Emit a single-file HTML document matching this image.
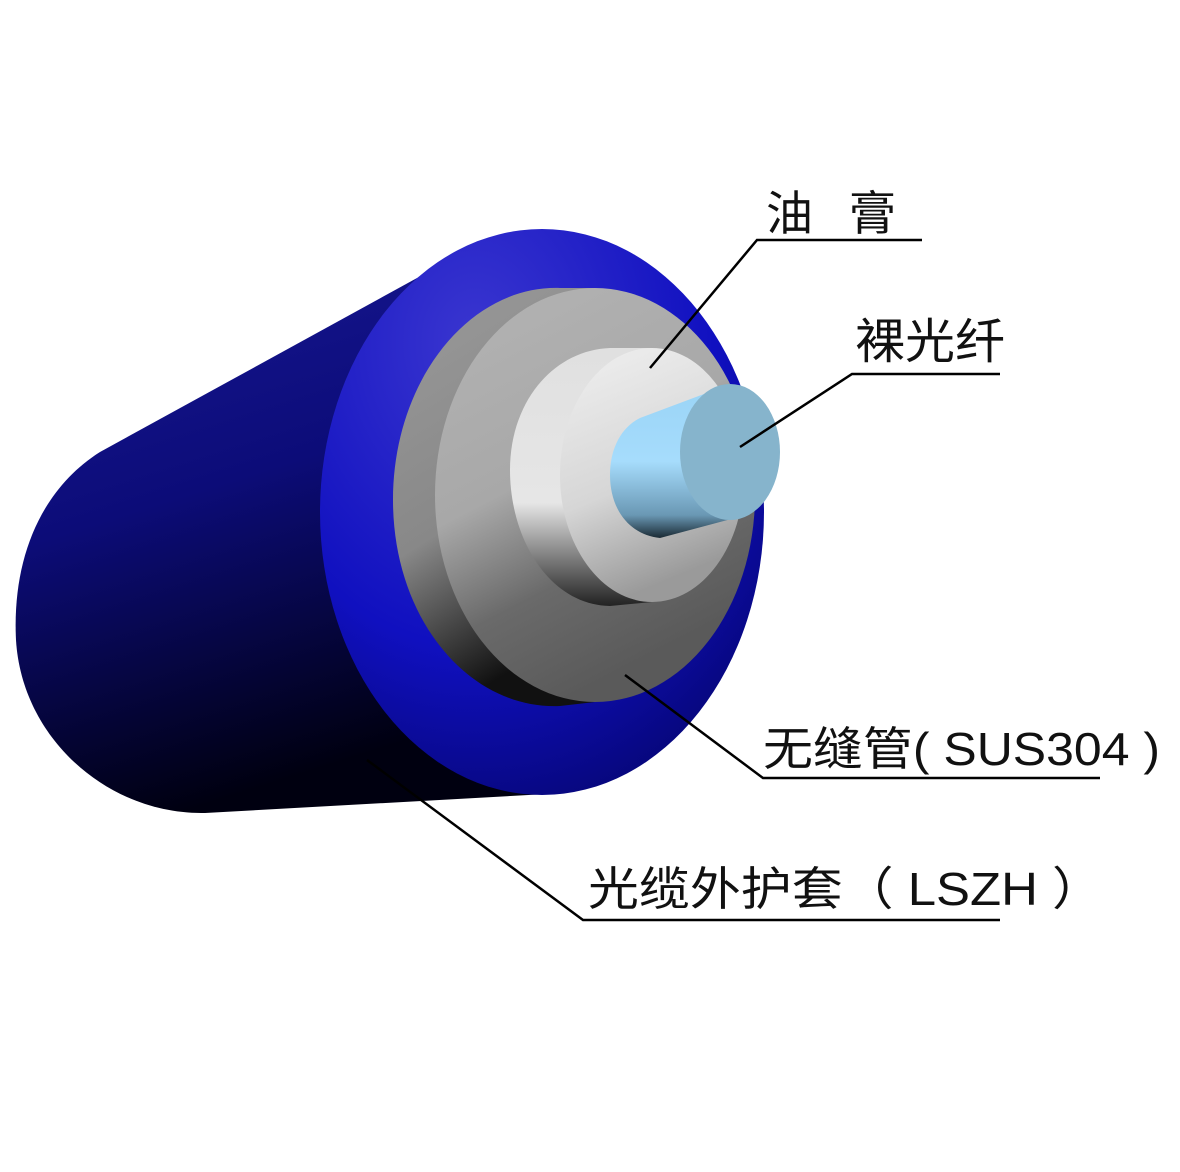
<!DOCTYPE html>
<html><head><meta charset="utf-8"><style>
html,body{margin:0;padding:0;background:#fff;}
svg{display:block;}
text{font-family:"Liberation Sans","Noto Sans CJK SC",sans-serif;fill:#111;}
</style></head><body>
<svg width="1180" height="1172" viewBox="0 0 1180 1172" xmlns="http://www.w3.org/2000/svg">
<defs>
<linearGradient id="body" x1="0" y1="0" x2="0.3" y2="1">
<stop offset="0" stop-color="#1a1a9a"/><stop offset="0.5" stop-color="#0c0c78"/><stop offset="1" stop-color="#000010"/>
</linearGradient>
<radialGradient id="face" cx="0.35" cy="0.2" r="0.9">
<stop offset="0" stop-color="#3a36d0"/><stop offset="0.6" stop-color="#1010c0"/><stop offset="1" stop-color="#050570"/>
</radialGradient>
<linearGradient id="gside" x1="0" y1="0" x2="0.3" y2="1">
<stop offset="0" stop-color="#9a9a9a"/><stop offset="0.6" stop-color="#888"/><stop offset="1" stop-color="#111"/>
</linearGradient>
<linearGradient id="gface" x1="0" y1="0" x2="0.4" y2="1">
<stop offset="0" stop-color="#b4b4b4"/><stop offset="0.5" stop-color="#a8a8a8"/><stop offset="0.75" stop-color="#6a6a6a"/><stop offset="1" stop-color="#5a5a5a"/>
</linearGradient>
<linearGradient id="wside" x1="0" y1="0" x2="0" y2="1">
<stop offset="0" stop-color="#e0e0e0"/><stop offset="0.6" stop-color="#e6e6e6"/><stop offset="1" stop-color="#222"/>
</linearGradient>
<linearGradient id="wface" x1="0" y1="0" x2="0.3" y2="1">
<stop offset="0" stop-color="#f0f0f0"/><stop offset="0.6" stop-color="#d6d6d6"/><stop offset="1" stop-color="#9a9a9a"/>
</linearGradient>
<linearGradient id="fside" x1="0" y1="0" x2="0" y2="1">
<stop offset="0" stop-color="#9ad4f6"/><stop offset="0.5" stop-color="#a6dcfc"/><stop offset="0.85" stop-color="#6a98b4"/><stop offset="1" stop-color="#1a2a34"/>
</linearGradient>
</defs>
<path d="M490,238 L100,452 C40,490 12,560 16,640 C22,740 110,815 205,813 L565,793 L542,232 Z" fill="url(#body)"/>
<ellipse cx="542" cy="512" rx="222" ry="283" fill="url(#face)"/>
<path d="M560,288 C470,285 393,380 393,500 C393,620 470,710 560,706 L595,702 L595,288 Z" fill="url(#gside)"/>
<ellipse cx="595" cy="495" rx="160" ry="207" fill="url(#gface)"/>
<path d="M610,348 C555,350 510,400 510,470 C510,540 550,605 610,606 L652,602 L652,348 Z" fill="url(#wside)"/>
<ellipse cx="652" cy="475" rx="92" ry="127" fill="url(#wface)"/>
<path d="M728,385 L640,418 C620,428 610,450 610,475 C610,510 630,535 660,538 L735,518 Z" fill="url(#fside)"/>
<ellipse cx="730" cy="452" rx="50" ry="68" fill="#86b4cc"/>
<g stroke="#000" stroke-width="2.5" fill="none">
<polyline points="922,240 757,240 650,368"/>
<polyline points="1000,374 852,374 740,447"/>
<polyline points="1100,778 763,778 625,675"/>
<polyline points="1000,920 583,920 367,760"/>
</g>
<text x="766" y="230" font-size="47">油</text>
<text x="849" y="230" font-size="47">膏</text>
<text x="855" y="358" font-size="48" textLength="150" lengthAdjust="spacingAndGlyphs">裸光纤</text>
<text x="763" y="765" font-size="46" textLength="397" lengthAdjust="spacingAndGlyphs">无缝管( SUS304 )</text>
<text x="588" y="905" font-size="46" textLength="515" lengthAdjust="spacingAndGlyphs">光缆外护套（ LSZH ）</text>
</svg>
</body></html>
